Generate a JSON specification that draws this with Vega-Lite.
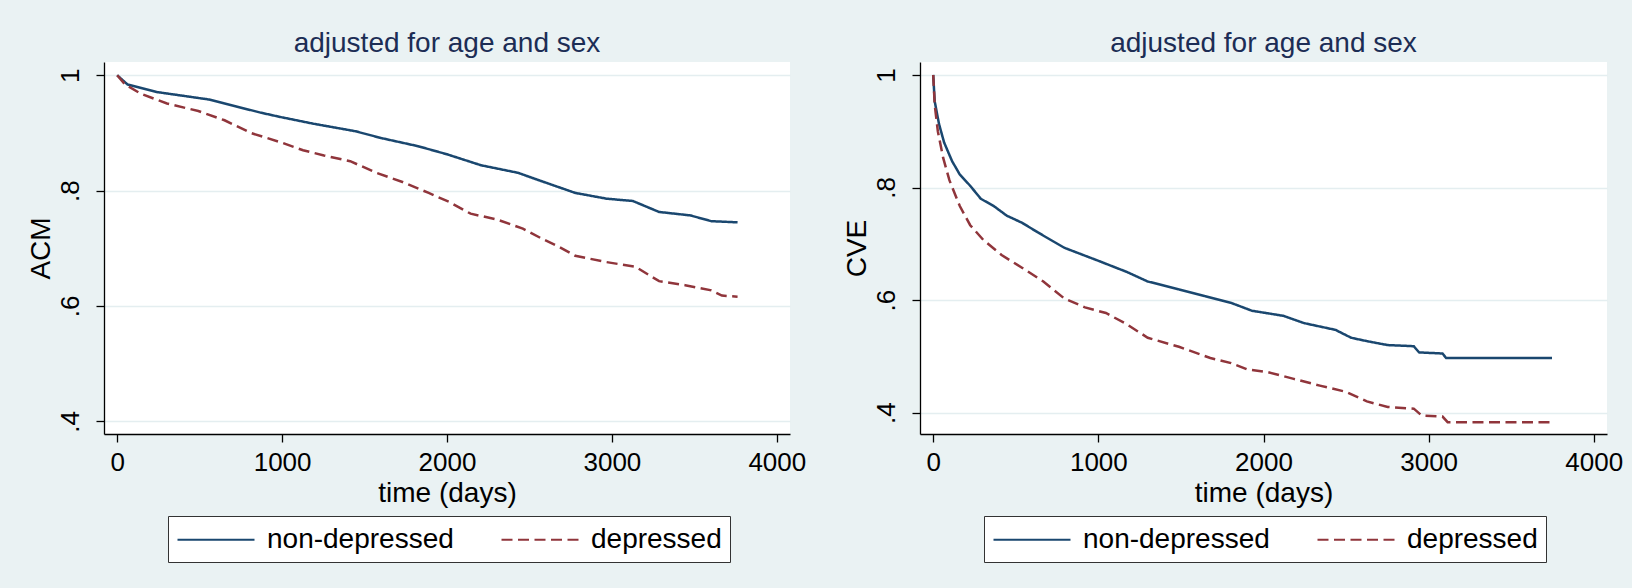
{
  "$schema": "https://vega.github.io/schema/vega-lite/v6.json",
  "background": "#eaf2f3",
  "padding": {"left": 27, "top": 30, "right": 9, "bottom": 25},
  "spacing": 37,
  "datasets": {
    "acm": [
      {"group": "non-depressed", "t": 0, "s": 1.0},
      {"group": "non-depressed", "t": 63, "s": 0.984},
      {"group": "non-depressed", "t": 238, "s": 0.971},
      {"group": "non-depressed", "t": 556, "s": 0.958},
      {"group": "non-depressed", "t": 651, "s": 0.951},
      {"group": "non-depressed", "t": 873, "s": 0.935},
      {"group": "non-depressed", "t": 1000, "s": 0.927},
      {"group": "non-depressed", "t": 1190, "s": 0.916},
      {"group": "non-depressed", "t": 1444, "s": 0.903},
      {"group": "non-depressed", "t": 1603, "s": 0.891},
      {"group": "non-depressed", "t": 1825, "s": 0.877},
      {"group": "non-depressed", "t": 2000, "s": 0.863},
      {"group": "non-depressed", "t": 2206, "s": 0.844},
      {"group": "non-depressed", "t": 2429, "s": 0.831},
      {"group": "non-depressed", "t": 2587, "s": 0.815},
      {"group": "non-depressed", "t": 2778, "s": 0.796},
      {"group": "non-depressed", "t": 2968, "s": 0.786},
      {"group": "non-depressed", "t": 3127, "s": 0.782},
      {"group": "non-depressed", "t": 3286, "s": 0.763},
      {"group": "non-depressed", "t": 3476, "s": 0.757},
      {"group": "non-depressed", "t": 3603, "s": 0.747},
      {"group": "non-depressed", "t": 3762, "s": 0.745},
      {"group": "depressed", "t": 0, "s": 1.0},
      {"group": "depressed", "t": 48, "s": 0.984},
      {"group": "depressed", "t": 143, "s": 0.968},
      {"group": "depressed", "t": 302, "s": 0.951},
      {"group": "depressed", "t": 492, "s": 0.938},
      {"group": "depressed", "t": 651, "s": 0.922},
      {"group": "depressed", "t": 810, "s": 0.900},
      {"group": "depressed", "t": 1000, "s": 0.883},
      {"group": "depressed", "t": 1127, "s": 0.870},
      {"group": "depressed", "t": 1254, "s": 0.861},
      {"group": "depressed", "t": 1413, "s": 0.851},
      {"group": "depressed", "t": 1571, "s": 0.831},
      {"group": "depressed", "t": 1730, "s": 0.815},
      {"group": "depressed", "t": 1889, "s": 0.796},
      {"group": "depressed", "t": 2016, "s": 0.780},
      {"group": "depressed", "t": 2143, "s": 0.760},
      {"group": "depressed", "t": 2302, "s": 0.750},
      {"group": "depressed", "t": 2460, "s": 0.734},
      {"group": "depressed", "t": 2587, "s": 0.715},
      {"group": "depressed", "t": 2683, "s": 0.702},
      {"group": "depressed", "t": 2778, "s": 0.687},
      {"group": "depressed", "t": 2968, "s": 0.676},
      {"group": "depressed", "t": 3143, "s": 0.668},
      {"group": "depressed", "t": 3286, "s": 0.643},
      {"group": "depressed", "t": 3444, "s": 0.636},
      {"group": "depressed", "t": 3603, "s": 0.627},
      {"group": "depressed", "t": 3667, "s": 0.618},
      {"group": "depressed", "t": 3762, "s": 0.616}
    ],
    "cve": [
      {"group": "non-depressed", "t": 0, "s": 1.0},
      {"group": "non-depressed", "t": 9, "s": 0.953},
      {"group": "non-depressed", "t": 35, "s": 0.913},
      {"group": "non-depressed", "t": 66, "s": 0.880},
      {"group": "non-depressed", "t": 114, "s": 0.847},
      {"group": "non-depressed", "t": 161, "s": 0.823},
      {"group": "non-depressed", "t": 224, "s": 0.803},
      {"group": "non-depressed", "t": 288, "s": 0.780},
      {"group": "non-depressed", "t": 367, "s": 0.767},
      {"group": "non-depressed", "t": 445, "s": 0.750},
      {"group": "non-depressed", "t": 540, "s": 0.737},
      {"group": "non-depressed", "t": 635, "s": 0.720},
      {"group": "non-depressed", "t": 793, "s": 0.693},
      {"group": "non-depressed", "t": 998, "s": 0.670},
      {"group": "non-depressed", "t": 1172, "s": 0.650},
      {"group": "non-depressed", "t": 1299, "s": 0.633},
      {"group": "non-depressed", "t": 1488, "s": 0.619},
      {"group": "non-depressed", "t": 1646, "s": 0.607},
      {"group": "non-depressed", "t": 1804, "s": 0.595},
      {"group": "non-depressed", "t": 1930, "s": 0.581},
      {"group": "non-depressed", "t": 2120, "s": 0.572},
      {"group": "non-depressed", "t": 2246, "s": 0.559},
      {"group": "non-depressed", "t": 2436, "s": 0.547},
      {"group": "non-depressed", "t": 2531, "s": 0.533},
      {"group": "non-depressed", "t": 2626, "s": 0.527},
      {"group": "non-depressed", "t": 2752, "s": 0.520},
      {"group": "non-depressed", "t": 2910, "s": 0.518},
      {"group": "non-depressed", "t": 2942, "s": 0.507},
      {"group": "non-depressed", "t": 3084, "s": 0.505},
      {"group": "non-depressed", "t": 3106, "s": 0.497},
      {"group": "non-depressed", "t": 3747, "s": 0.497},
      {"group": "depressed", "t": 0, "s": 1.0},
      {"group": "depressed", "t": 9, "s": 0.947},
      {"group": "depressed", "t": 28, "s": 0.900},
      {"group": "depressed", "t": 60, "s": 0.853},
      {"group": "depressed", "t": 98, "s": 0.813},
      {"group": "depressed", "t": 161, "s": 0.767},
      {"group": "depressed", "t": 224, "s": 0.733},
      {"group": "depressed", "t": 303, "s": 0.707},
      {"group": "depressed", "t": 414, "s": 0.680},
      {"group": "depressed", "t": 540, "s": 0.657},
      {"group": "depressed", "t": 667, "s": 0.633},
      {"group": "depressed", "t": 793, "s": 0.603},
      {"group": "depressed", "t": 919, "s": 0.587},
      {"group": "depressed", "t": 1046, "s": 0.577},
      {"group": "depressed", "t": 1172, "s": 0.557},
      {"group": "depressed", "t": 1299, "s": 0.533},
      {"group": "depressed", "t": 1488, "s": 0.517},
      {"group": "depressed", "t": 1678, "s": 0.497},
      {"group": "depressed", "t": 1804, "s": 0.488},
      {"group": "depressed", "t": 1899, "s": 0.477},
      {"group": "depressed", "t": 2025, "s": 0.472},
      {"group": "depressed", "t": 2183, "s": 0.460},
      {"group": "depressed", "t": 2341, "s": 0.448},
      {"group": "depressed", "t": 2499, "s": 0.437},
      {"group": "depressed", "t": 2626, "s": 0.420},
      {"group": "depressed", "t": 2752, "s": 0.410},
      {"group": "depressed", "t": 2910, "s": 0.407},
      {"group": "depressed", "t": 2957, "s": 0.395},
      {"group": "depressed", "t": 3084, "s": 0.393},
      {"group": "depressed", "t": 3115, "s": 0.383},
      {"group": "depressed", "t": 3747, "s": 0.383}
    ]
  },
  "hconcat": [
    {
      "width": 686,
      "height": 372,
      "title": "adjusted for age and sex",
      "data": {"name": "acm"},
      "mark": {"type": "line", "strokeWidth": 2.5},
      "encoding": {
        "x": {"field": "t", "type": "quantitative", "scale": {"domain": [-80, 4080], "nice": false, "zero": false}, "axis": {"values": [0, 1000, 2000, 3000, 4000], "format": "d", "title": "time (days)"}},
        "y": {"field": "s", "type": "quantitative", "scale": {"domain": [0.378, 1.023], "nice": false, "zero": false}, "axis": {"values": [0.4, 0.6, 0.8, 1], "labelExpr": "datum.value >= 1 ? '1' : '.' + round(datum.value * 10)", "title": "ACM"}},
        "color": {"field": "group", "type": "nominal", "scale": {"domain": ["non-depressed", "depressed"], "range": ["#1a476f", "#90353b"]}, "legend": {"legendX": 64, "legendY": 454}},
        "strokeDash": {"field": "group", "type": "nominal", "scale": {"domain": ["non-depressed", "depressed"], "range": [[1, 0], [11, 5.5]]}, "legend": {"legendX": 64, "legendY": 454}}
      }
    },
    {
      "width": 687,
      "height": 372,
      "title": "adjusted for age and sex",
      "data": {"name": "cve"},
      "mark": {"type": "line", "strokeWidth": 2.5},
      "encoding": {
        "x": {"field": "t", "type": "quantitative", "scale": {"domain": [-80, 4080], "nice": false, "zero": false}, "axis": {"values": [0, 1000, 2000, 3000, 4000], "format": "d", "title": "time (days)"}},
        "y": {"field": "s", "type": "quantitative", "scale": {"domain": [0.362, 1.023], "nice": false, "zero": false}, "axis": {"values": [0.4, 0.6, 0.8, 1], "labelExpr": "datum.value >= 1 ? '1' : '.' + round(datum.value * 10)", "title": "CVE"}},
        "color": {"field": "group", "type": "nominal", "scale": {"domain": ["non-depressed", "depressed"], "range": ["#1a476f", "#90353b"]}, "legend": {"legendX": 64, "legendY": 454}},
        "strokeDash": {"field": "group", "type": "nominal", "scale": {"domain": ["non-depressed", "depressed"], "range": [[1, 0], [11, 5.5]]}, "legend": {"legendX": 64, "legendY": 454}}
      }
    }
  ],
  "resolve": {
    "scale": {"x": "independent", "y": "independent", "color": "independent", "strokeDash": "independent"},
    "legend": {"color": "independent", "strokeDash": "independent"}
  },
  "config": {
    "font": "Liberation Sans",
    "view": {"fill": "white", "stroke": null},
    "title": {"font": "Liberation Sans", "fontSize": 28, "fontWeight": "normal", "color": "#1c2d55", "anchor": "middle", "frame": "group", "baseline": "alphabetic", "offset": 4},
    "axis": {
      "labelFont": "Liberation Sans", "titleFont": "Liberation Sans",
      "domainColor": "black", "domainWidth": 1.3, "tickColor": "black", "tickWidth": 1.3, "tickSize": 8,
      "labelColor": "black", "titleColor": "black", "labelFontSize": 26, "titleFontSize": 28, "titleFontWeight": "normal",
      "gridColor": "#e4eef0", "gridWidth": 1.5
    },
    "axisX": {"grid": false, "labelFlush": false, "labelOverlap": false, "labelBaseline": "alphabetic", "labelPadding": 28, "titleBaseline": "alphabetic", "titleY": 67},
    "axisY": {"grid": true, "labelOverlap": false, "labelAngle": -90, "labelAlign": "center", "labelBaseline": "alphabetic", "labelPadding": 18, "titleAngle": -90, "titleBaseline": "alphabetic", "titleAlign": "center", "titleX": -54.6, "titleY": 186},
    "legend": {
      "orient": "none", "direction": "horizontal", "columns": 2, "columnPadding": 43, "padding": 8,
      "fillColor": "white", "strokeColor": "#333333", "title": null,
      "labelFont": "Liberation Sans", "labelFontSize": 28, "labelColor": "black", "labelLimit": 400, "labelOffset": 60,
      "symbolType": "M-1,0H4.5", "symbolSize": 784, "symbolStrokeWidth": 2.2, "symbolFillColor": "transparent"
    }
  }
}
